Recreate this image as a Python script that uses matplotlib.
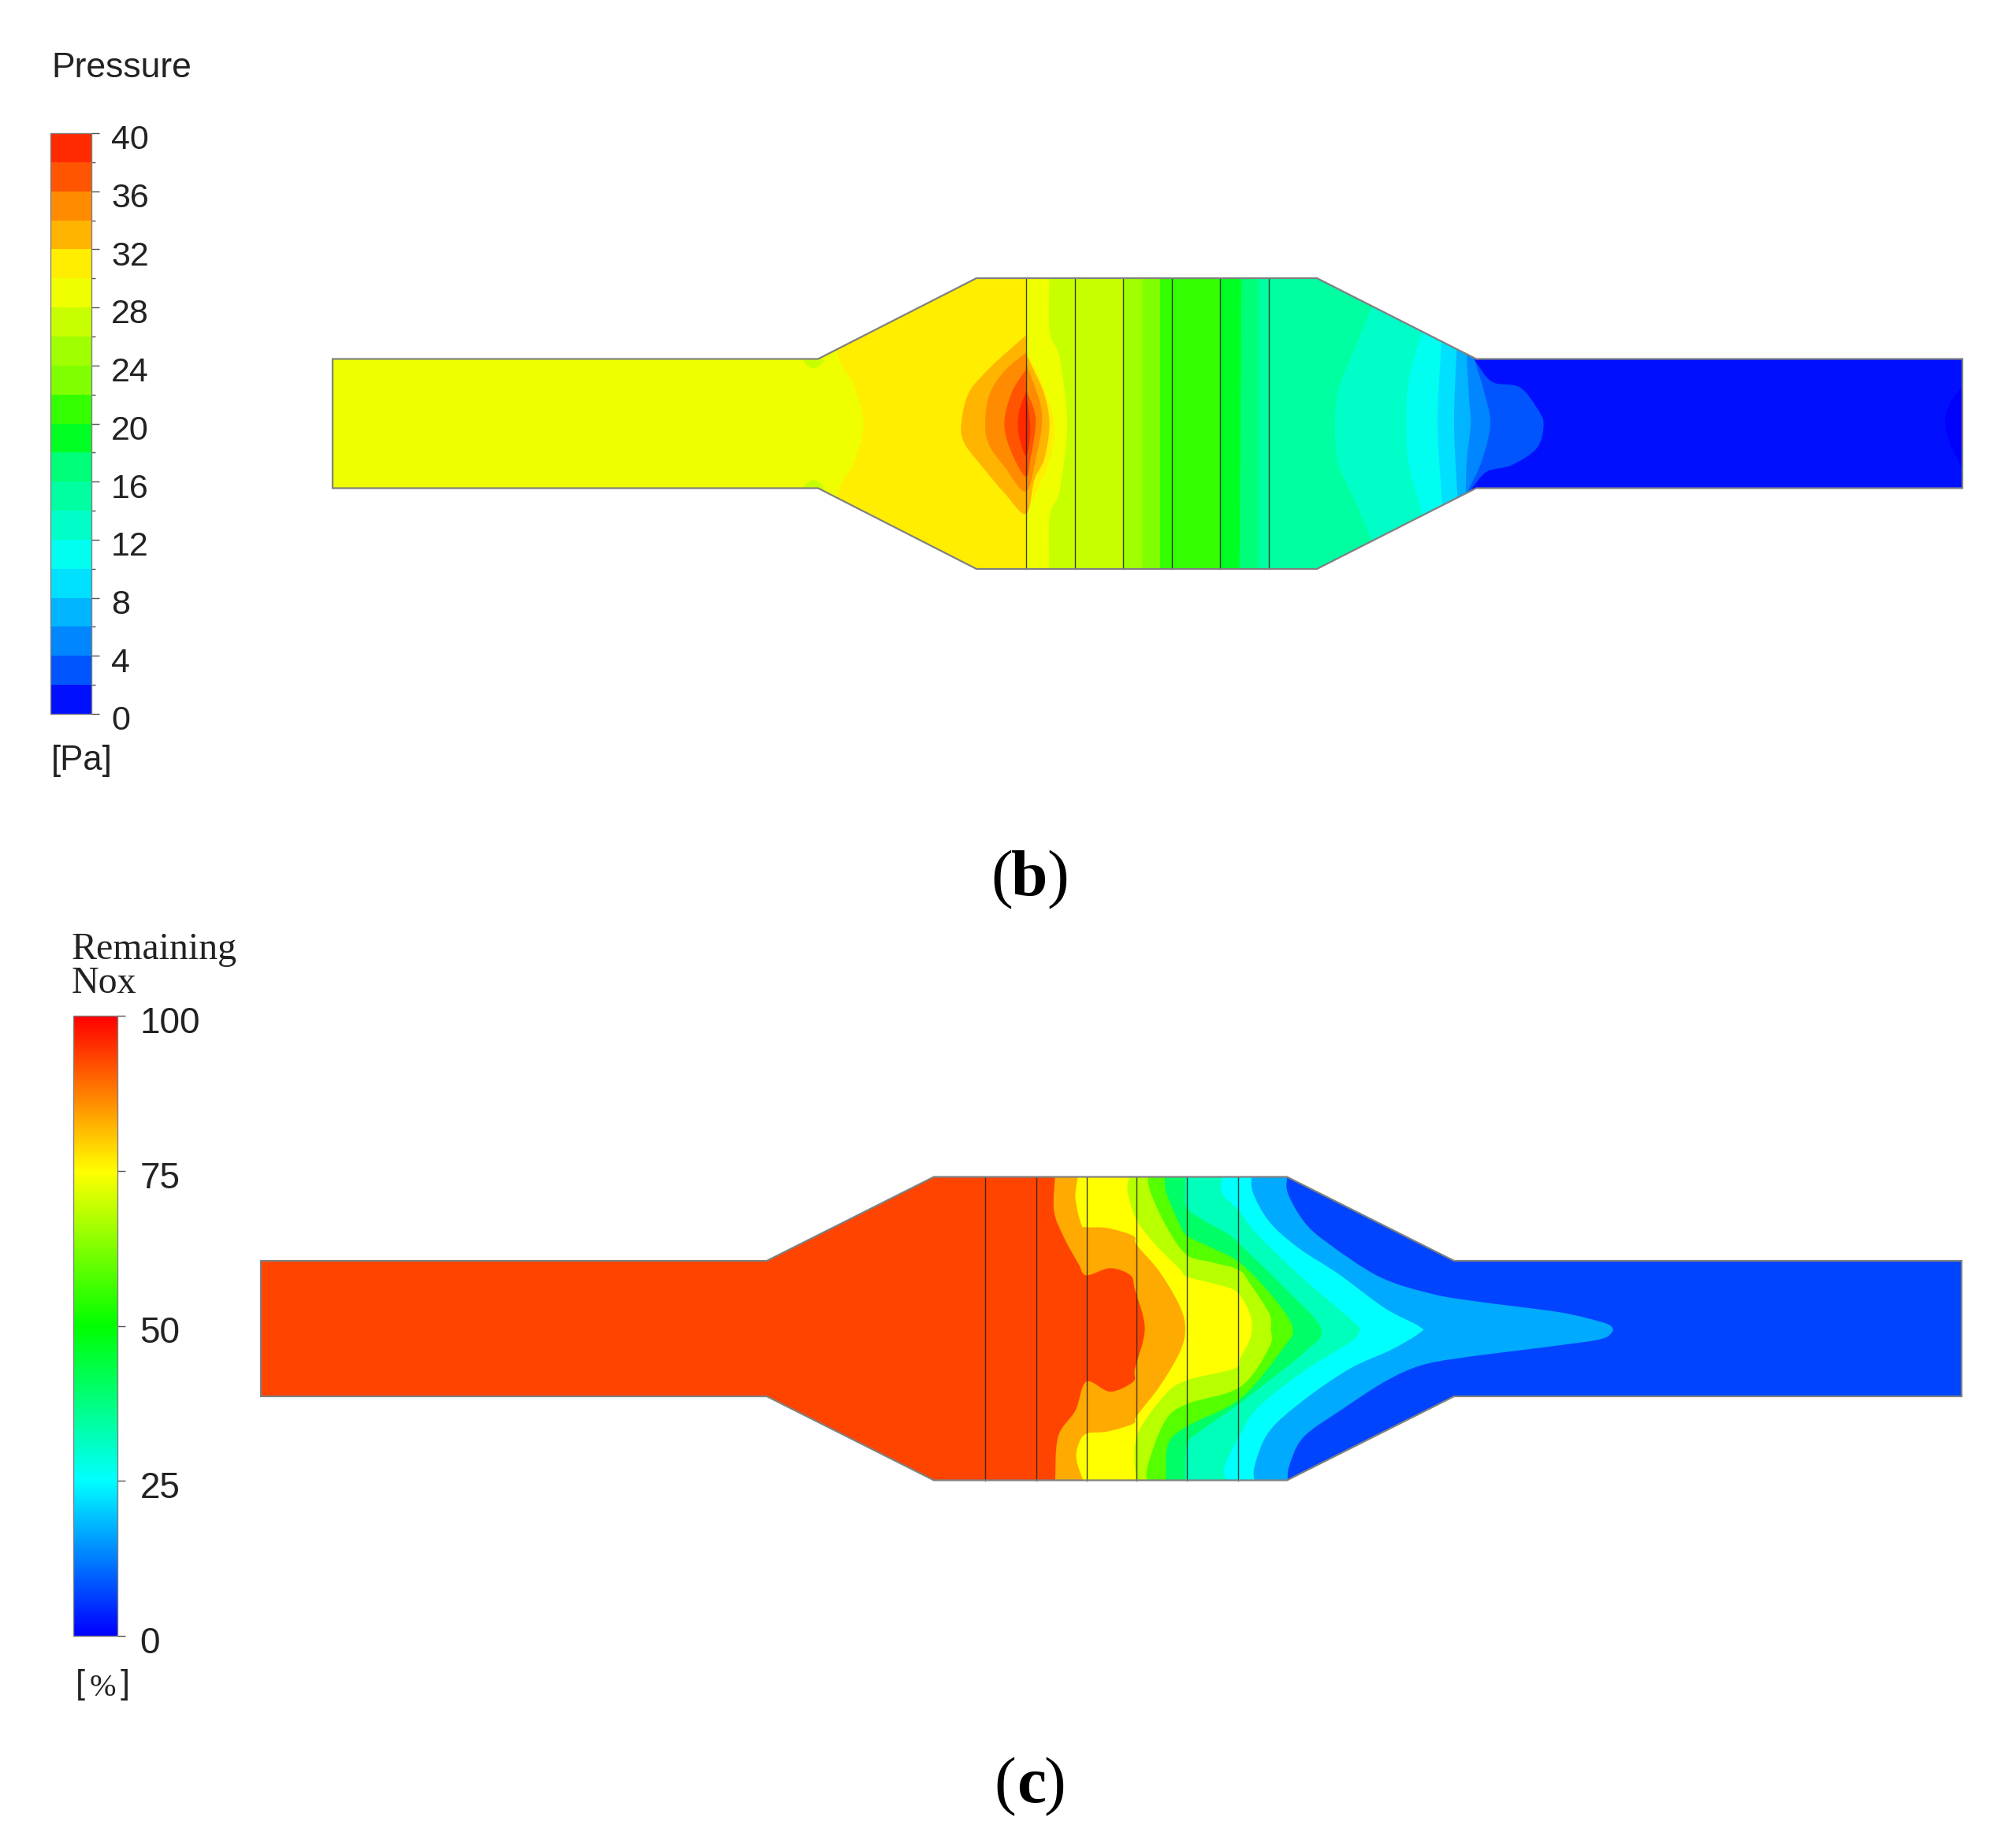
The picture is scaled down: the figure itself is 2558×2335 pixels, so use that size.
import matplotlib
matplotlib.use('Agg')
import matplotlib.pyplot as plt
from matplotlib.cm import ScalarMappable
from matplotlib.colors import BoundaryNorm, LinearSegmentedColormap, ListedColormap, Normalize
from matplotlib.patches import PathPatch, Polygon
from matplotlib.path import Path
from matplotlib.transforms import ScaledTranslation
import numpy as np

W, H = 2558, 2335

# pressure legend, low to high
p_levels = list(range(0, 42, 2))
p_ticks = list(range(0, 44, 4))
p_colors = ['#0010ff', '#0055ff', '#0087ff', '#00b4ff', '#00e1ff', '#00fff0', '#00ffc8', '#00ffa0', '#00ff78', '#00ff22',
            '#33ff00', '#80ff00', '#a0ff00', '#c8ff00', '#f0ff00', '#ffee00', '#ffb400', '#ff8c00', '#ff5500', '#ff2a00']
nox_ticks = [0, 25, 50, 75, 100]

# outline of the two ducts, image pixels: x ends, neck, housing, half heights
b_x = [422, 1038, 1239, 1671, 1873, 2490]
b_ymid, b_duct, b_house = 537.5, 82, 184.5
c_x = [331, 973, 1185, 1633, 1845, 2489]
c_ymid, c_duct, c_house = 1686, 86, 192.5
b_lines = [1302, 1364, 1425, 1487, 1548, 1610]
c_lines = [1250, 1315, 1378.5, 1442, 1506, 1571]

# colour is the one on the right side of the edge
b_edges = [
    ('#ffee00', [(60, 60), (100, 395), (130, 500), (150, 650), (130, 800), (100, 905), (60, 1240)]),
    ('#f0ff00', [(473, 90), (473, 1210)]),
    ('#c8ff00', [(520, 90), (520, 300), (540, 400), (555, 650), (540, 900), (520, 1000), (520, 1210)]),
    ('#a0ff00', [(667, 90), (667, 1210)]),
    ('#80ff00', [(705, 90), (705, 1210)]),
    ('#33ff00', [(740, 90), (740, 1210)]),
    ('#00ff22', [(860, 90), (860, 1210)]),
    ('#00ff78', [(902, 90), (898, 1210)]),
    ('#00ffa0', [(935, 90), (935, 1210)]),
    ('#00ffc8', [(1165, 190), (1130, 350), (1095, 520), (1088, 650), (1095, 800), (1130, 950), (1165, 1110)]),
    ('#00fff0', [(1262, 300), (1235, 480), (1230, 650), (1235, 800), (1262, 1000)]),
    ('#00e1ff', [(1300, 340), (1292, 650), (1302, 960)]),
    ('#00b4ff', [(1330, 370), (1325, 650), (1332, 930)]),
    ('#0087ff', [(1350, 390), (1355, 560), (1358, 650), (1350, 790), (1348, 915)]),
    ('#0055ff', [(1365, 405), (1385, 530), (1397, 650), (1380, 790), (1352, 905)]),
    ('#0010ff', [(1365, 405), (1400, 490), (1455, 510), (1490, 590), (1503, 650), (1490, 740), (1440, 805),
                 (1390, 830), (1360, 895)]),
    ('#0000ff', [(2340, 498), (2313, 566), (2302, 641), (2313, 730), (2340, 834)]),
]
# lens in front of the first plate, outer to inner
b_lenses = [
    ('#ffee00', [(473, 380), (500, 470), (525, 600), (530, 650), (525, 760), (500, 880), (473, 990)]),
    ('#ffb400', [(473, 315), (440, 370), (400, 440), (360, 530), (345, 640), (350, 720), (390, 820), (430, 910),
                 (473, 990), (490, 860), (510, 780), (520, 650), (510, 540), (490, 450), (473, 385)]),
    ('#ff8c00', [(473, 380), (430, 450), (400, 540), (392, 650), (400, 730), (430, 810), (473, 905), (495, 760),
                 (505, 650), (500, 560), (473, 420)]),
    ('#ff5500', [(473, 445), (445, 530), (430, 650), (445, 760), (473, 850), (482, 780), (492, 670), (490, 600),
                 (473, 520)]),
    ('#ff2a00', [(473, 530), (460, 600), (458, 680), (473, 770), (482, 680), (478, 590)]),
    ('#c8ff00', [(30, 405), (70, 405), (65, 425), (50, 440), (35, 425)]),
    ('#c8ff00', [(30, 897), (70, 897), (65, 875), (50, 860), (35, 875)]),
]
b_base = '#f0ff00'

# (c) contour edges, same idea
c_edges = [
    ('#ffaa00', [(530, 60), (528, 200), (545, 300), (570, 400), (584, 445), (625, 418), (660, 445), (668, 500),
                 (685, 648), (668, 800), (665, 850), (625, 888), (584, 850), (565, 960), (535, 1060), (530, 1235)]),
    ('#ffff00', [(570, 60), (565, 150), (575, 250), (584, 262), (620, 265), (665, 295), (671, 330), (710, 430),
                 (745, 560), (755, 650), (745, 740), (710, 870), (671, 980), (665, 1010), (620, 1040), (584, 1048),
                 (570, 1090), (567, 1150), (580, 1235)]),
    ('#b8ff00', [(660, 60), (655, 120), (670, 230), (700, 320), (745, 420), (758, 450), (810, 480), (845, 510),
                 (868, 600), (868, 680), (850, 760), (840, 800), (758, 845), (720, 900), (671, 1060), (670, 1235)]),
    ('#55ff00', [(690, 60), (695, 130), (725, 270), (758, 368), (800, 395), (848, 425), (868, 480), (900, 590),
                 (903, 650), (900, 720), (850, 870), (758, 935), (720, 1000), (690, 1170), (690, 1235)]),
    ('#00ff66', [(720, 60), (722, 130), (745, 250), (758, 295), (800, 340), (848, 395), (900, 510), (940, 640),
                 (925, 720), (850, 915), (758, 1020), (725, 1090), (722, 1235)]),
    ('#00ffbb', [(755, 60), (755, 130), (758, 190), (790, 240), (830, 290), (860, 350), (930, 500), (990, 650),
                 (960, 740), (880, 880), (848, 935), (780, 1040), (758, 1090), (755, 1235)]),
    ('#00ffff', [(820, 60), (818, 130), (848, 200), (880, 290), (960, 460), (1050, 630), (1055, 660), (1040, 700),
                 (960, 810), (880, 950), (848, 1060), (822, 1180), (830, 1235)]),
    ('#00aaff', [(870, 60), (872, 130), (900, 240), (950, 340), (1020, 440), (1100, 570), (1160, 640), (1160, 665),
                 (1110, 730), (1040, 800), (960, 920), (900, 1040), (875, 1170), (875, 1235)]),
    ('#0044ff', [(932, 60), (932, 130), (960, 240), (1000, 320), (1090, 450), (1180, 515), (1260, 545), (1400, 585),
                 (1470, 620), (1492, 640), (1492, 665), (1470, 690), (1390, 715), (1230, 760), (1160, 790),
                 (1100, 850), (1030, 950), (960, 1060), (935, 1170), (932, 1235)]),
]
c_base = '#ff4400'


def crop_b(pts):
    return [(1000 + x / 1.568, 320 + y / 2.98) for x, y in pts]


def crop_c(pts):
    return [(950 + x / 1.363, 1470 + y / 3.0) for x, y in pts]


def outline(xs, ymid, duct, house):
    top = [(xs[0], ymid - duct), (xs[1], ymid - duct), (xs[2], ymid - house), (xs[3], ymid - house),
           (xs[4], ymid - duct), (xs[5], ymid - duct)]
    bottom = [(x, 2 * ymid - y) for x, y in reversed(top)]
    return top + bottom


def curve_through(pts, tail=()):
    # bezier path through the read points so the contours are not angular
    p = np.array(pts, dtype=float)
    verts = [p[0]]
    codes = [Path.MOVETO]
    for i in range(len(p) - 1):
        before = p[max(i - 1, 0)]
        after = p[min(i + 2, len(p) - 1)]
        verts += [p[i] + (p[i + 1] - before) / 6, p[i + 1] - (after - p[i]) / 6, p[i + 1]]
        codes += [Path.CURVE4] * 3
    for t in tail:
        verts.append(t)
        codes.append(Path.LINETO)
    verts.append(p[0])
    codes.append(Path.CLOSEPOLY)
    return Path(verts, codes)


def draw_duct(ax, shape, base, edges, lenses, crop, lines, ymid, house):
    domain = Polygon(shape, closed=True, facecolor=base, edgecolor='none', zorder=1)
    ax.add_patch(domain)
    # painter style: every edge fills everything to its right
    for color, pts in edges:
        pts = crop(pts)
        path = curve_through(pts, [(W + 50, pts[-1][1]), (W + 50, pts[0][1])])
        p = PathPatch(path, facecolor=color, edgecolor='none', zorder=2)
        ax.add_patch(p)
        p.set_clip_path(domain)
    for color, pts in lenses:
        p = PathPatch(curve_through(crop(pts)), facecolor=color, edgecolor='none', zorder=3)
        ax.add_patch(p)
        p.set_clip_path(domain)
    for x in lines:
        ax.plot([x, x], [ymid - house, ymid + house], color='#222222', lw=1.0, alpha=0.85, zorder=4)
    ax.add_patch(Polygon(shape, closed=True, fill=False, edgecolor='#808080', lw=1.6, zorder=5))


def shift_labels(cax, dy_pts):
    off = ScaledTranslation(0, dy_pts / 72, cax.figure.dpi_scale_trans)
    for lab in cax.get_yticklabels():
        lab.set_transform(lab.get_transform() + off)


def axes_px(fig, x0, y0, x1, y1):
    return fig.add_axes([x0 / W, 1 - y1 / H, (x1 - x0) / W, (y1 - y0) / H])


plt.rcParams['font.family'] = ['Liberation Sans', 'DejaVu Sans']
fig = plt.figure(figsize=(W / 100, H / 100), dpi=100, facecolor='white')
ax = fig.add_axes([0, 0, 1, 1])
ax.set_xlim(0, W)
ax.set_ylim(H, 0)
ax.axis('off')

draw_duct(ax, outline(b_x, b_ymid, b_duct, b_house), b_base, b_edges, b_lenses, crop_b, b_lines, b_ymid, b_house)
draw_duct(ax, outline(c_x, c_ymid, c_duct, c_house), c_base, c_edges, [], crop_c, c_lines, c_ymid, c_house)

# pressure colorbar
cax = axes_px(fig, 64, 169, 116, 906)
sm = ScalarMappable(norm=BoundaryNorm(p_levels, len(p_colors)), cmap=ListedColormap(p_colors))
cb = fig.colorbar(sm, cax=cax, drawedges=False, spacing='proportional')
cb.outline.set_edgecolor('#808080')
cb.outline.set_linewidth(1.0)
cb.set_ticks(p_ticks, labels=[str(t) for t in p_ticks])
cax.tick_params(axis='y', length=7, width=1, color='#555555', labelsize=31, pad=11, labelcolor='#222222')
cax.set_yticks(p_levels[1::2], minor=True)
cax.tick_params(axis='y', which='minor', length=3.5, width=1, color='#555555')
shift_labels(cax, -3.5)

# nox colorbar
cax2 = axes_px(fig, 93, 1289, 149, 2076)
rainbow = LinearSegmentedColormap.from_list('ansys', ['#0000ff', '#00ffff', '#00ff00', '#ffff00', '#ff0000'], N=256)
sm2 = ScalarMappable(norm=Normalize(0, 100), cmap=rainbow)
cb2 = fig.colorbar(sm2, cax=cax2)
cb2.outline.set_edgecolor('#808080')
cb2.outline.set_linewidth(1.0)
cb2.set_ticks(nox_ticks, labels=[str(t) for t in nox_ticks])
cax2.tick_params(axis='y', length=7.5, width=1, color='#555555', labelsize=33, pad=13, labelcolor='#222222')
shift_labels(cax2, -3.5)

# texts
ax.text(65, 87, 'Pressure', fontsize=32, color='#222222', va='center', ha='left')
ax.text(65, 965, '[Pa]', fontsize=31.5, color='#222222', va='center', ha='left')
ax.text(91, 1205, 'Remaining', fontsize=34.5, family=['Liberation Serif'], color='#222222', va='center', ha='left')
ax.text(91, 1248, 'Nox', fontsize=34.5, family=['Liberation Serif'], color='#222222', va='center', ha='left')
ax.text(96, 2138, '[', fontsize=31, color='#222222', va='center', ha='left')
ax.text(130, 2142, '%', fontsize=29, family=['Liberation Serif'], color='#222222', va='center', ha='center')
ax.text(165, 2138, ']', fontsize=31, color='#222222', va='center', ha='right')

# panel letters, parens regular and letter bold
letter_font = dict(fontsize=60, family=['Liberation Serif'], color='black', va='baseline')
for letter, x_open, x_letter, x_close, y_base in [('b', 1257, 1283, 1356, 1136), ('c', 1261, 1290, 1352, 2287)]:
    ax.text(x_open, y_base, '(', ha='left', **letter_font)
    ax.text(x_letter, y_base, letter, ha='left', fontweight='bold', **letter_font)
    ax.text(x_close, y_base, ')', ha='right', **letter_font)

fig.savefig('out.png', dpi=100)
